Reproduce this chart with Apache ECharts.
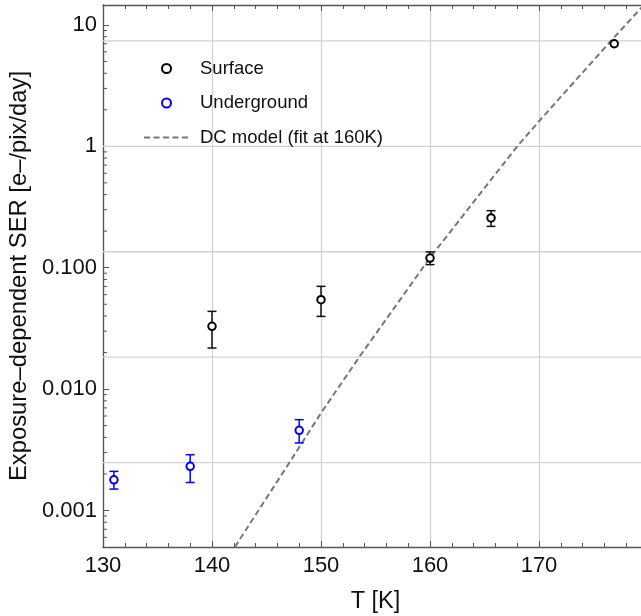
<!DOCTYPE html>
<html>
<head>
<meta charset="utf-8">
<script src="https://cdn.jsdelivr.net/npm/echarts@6/dist/echarts.min.js"></script>
<style>
  html, body { margin: 0; padding: 0; background: #ffffff; }
  #chart { width: 641px; height: 616px; }
</style>
</head>
<body>
<div id="chart"></div>
<script>
// Surface measurements: temperature [K], SER, and error bar limits
const surfaceT    = [140, 150, 160, 165.6, 176.9];
const surfaceSER  = [0.0329, 0.0545, 0.120, 0.257, 7.0];
const surfaceLow  = [0.0218, 0.0397, 0.106, 0.219, null];
const surfaceHigh = [0.0437, 0.0702, 0.135, 0.295, null];

// Underground measurements
const underT    = [131, 138, 148];
const underSER  = [0.00179, 0.00231, 0.00457];
const underLow  = [0.0015, 0.0017, 0.0036];
const underHigh = [0.0021, 0.00288, 0.0056];

// Dark-current model curve (fit at 160 K), sampled points
const dcT   = [142.1, 147.1, 150, 153.5, 160, 168, 170, 176.6, 179.4];
const dcSER = [0.0005, 0.00248, 0.00635, 0.0183, 0.121, 1.0, 1.61, 7.39, 13.9];

// Horizontal grid lines (at e^2, e^0, e^-2, e^-4, e^-6)
const yGridValues = [7.389, 1, 0.1353, 0.01832, 0.002479];
// Minor tick multipliers within each decade
const minorMultipliers = [2, 3, 4, 5, 6, 7, 8, 9];
const decades = [0.0001, 0.001, 0.01, 0.1, 1, 10];

const xMin = 130, xMax = 180, yMin = 0.0005, yMax = 14.6;

const minorYTicks = [];
decades.forEach(d => minorMultipliers.forEach(m => {
  const v = d * m;
  if (v > yMin && v < yMax) minorYTicks.push([xMin, v]);
}));

const FONT = "'Liberation Sans', Arial, sans-serif";
const AXIS_COLOR = '#555555';
const GRID_COLOR = '#d2d2d2';
const BLACK = '#000000';
const BLUE = '#0000ff';

function zip(a, b) { return a.map((v, i) => [v, b[i]]); }
function errData(t, lo, hi) {
  const out = [];
  t.forEach((v, i) => { if (lo[i] != null) out.push([v, lo[i], hi[i]]); });
  return out;
}

function errorBarRenderer(color) {
  return function (params, api) {
    const x = api.value(0);
    const pLo = api.coord([x, api.value(1)]);
    const pHi = api.coord([x, api.value(2)]);
    const w = 4.5;
    const style = { stroke: color, lineWidth: 1.5, fill: null };
    return {
      type: 'group',
      children: [
        { type: 'line', shape: { x1: pLo[0], y1: pLo[1], x2: pHi[0], y2: pHi[1] }, style },
        { type: 'line', shape: { x1: pLo[0] - w, y1: pLo[1], x2: pLo[0] + w, y2: pLo[1] }, style },
        { type: 'line', shape: { x1: pHi[0] - w, y1: pHi[1], x2: pHi[0] + w, y2: pHi[1] }, style }
      ]
    };
  };
}

const chart = echarts.init(document.getElementById('chart'), null, { renderer: 'canvas' });

const option = {
  backgroundColor: '#ffffff',
  animation: false,
  grid: { left: 103, width: 545, top: 5, bottom: 69, containLabel: false, outerBoundsMode: 'none' },
  legend: {
    data: [
      { name: 'Surface' },
      { name: 'Underground' },
      { name: 'DC model (fit at 160K)', itemStyle: { opacity: 0 } }
    ],
    orient: 'vertical',
    left: 138,
    top: 54,
    itemWidth: 45,
    itemHeight: 9,
    itemGap: 15.5,
    textStyle: { fontFamily: FONT, fontSize: 18.5, color: '#111111', padding: [0, 0, 0, 6] }
  },
  xAxis: [
    {
      type: 'value',
      min: xMin, max: xMax, interval: 10,
      name: 'T [K]',
      nameLocation: 'middle',
      nameGap: 43,
      nameTextStyle: { fontFamily: FONT, fontSize: 23.5, color: '#111111' },
      axisLine: { show: true, lineStyle: { color: AXIS_COLOR, width: 1.3 } },
      axisTick: { show: true, inside: true, length: 6, lineStyle: { color: AXIS_COLOR, width: 1 } },
      minorTick: { show: true, splitNumber: 5, length: 4, lineStyle: { color: AXIS_COLOR, width: 1 } },
      axisLabel: { fontFamily: FONT, fontSize: 22, color: '#111111', margin: 8, showMaxLabel: false },
      splitLine: { show: true, lineStyle: { color: GRID_COLOR, width: 1.3 } }
    },
    {
      type: 'value',
      position: 'top',
      min: xMin, max: xMax, interval: 10,
      axisLine: { show: true, lineStyle: { color: AXIS_COLOR, width: 1.3 } },
      axisTick: { show: true, inside: true, length: 6, lineStyle: { color: AXIS_COLOR, width: 1 } },
      minorTick: { show: true, splitNumber: 5, length: 4, lineStyle: { color: AXIS_COLOR, width: 1 } },
      axisLabel: { show: false },
      splitLine: { show: false }
    }
  ],
  yAxis: {
    type: 'log',
    logBase: 10,
    min: yMin, max: yMax,
    name: 'Exposure–dependent SER [e–/pix/day]',
    nameLocation: 'middle',
    nameGap: 72,
    nameTextStyle: { fontFamily: FONT, fontSize: 23.8, color: '#111111' },
    axisLine: { show: true, lineStyle: { color: AXIS_COLOR, width: 1.3 } },
    axisTick: { show: true, inside: true, length: 6, lineStyle: { color: AXIS_COLOR, width: 1 } },
    axisLabel: {
      fontFamily: FONT, fontSize: 22, color: '#111111', margin: 6,
      padding: [2, 0, 0, 0],
      showMinLabel: false, showMaxLabel: false,
      formatter: v => (v >= 1 ? String(Math.round(v)) : v.toFixed(3))
    },
    splitLine: { show: false }
  },
  series: [
    {
      // horizontal grid lines
      type: 'custom',
      silent: true,
      z: 1,
      data: yGridValues.map(v => [xMin, v]),
      renderItem: (params, api) => {
        const v = api.value(1);
        const p1 = api.coord([xMin, v]);
        const p2 = api.coord([xMax, v]);
        return { type: 'line', shape: { x1: p1[0], y1: p1[1], x2: p2[0], y2: p2[1] },
                 style: { stroke: GRID_COLOR, lineWidth: 1.3 } };
      }
    },
    {
      // minor ticks on the logarithmic axis
      type: 'custom',
      silent: true,
      z: 3,
      data: minorYTicks,
      renderItem: (params, api) => {
        const p = api.coord([xMin, api.value(1)]);
        return { type: 'line', shape: { x1: p[0], y1: p[1], x2: p[0] + 4, y2: p[1] },
                 style: { stroke: AXIS_COLOR, lineWidth: 1 } };
      }
    },
    {
      name: 'DC model (fit at 160K)',
      type: 'line',
      z: 2,
      data: zip(dcT, dcSER),
      showSymbol: false,
      symbol: 'none',
      clip: true,
      lineStyle: { color: '#777777', width: 2, type: [6, 3.5] },
      itemStyle: { color: '#777777' }
    },
    {
      type: 'custom',
      z: 3,
      silent: true,
      data: errData(surfaceT, surfaceLow, surfaceHigh),
      renderItem: errorBarRenderer('#111111')
    },
    {
      type: 'custom',
      z: 3,
      silent: true,
      data: errData(underT, underLow, underHigh),
      renderItem: errorBarRenderer(BLUE)
    },
    {
      name: 'Surface',
      type: 'scatter',
      z: 4,
      symbol: 'emptyCircle',
      symbolSize: 7.5,
      data: zip(surfaceT, surfaceSER),
      itemStyle: { color: BLACK, borderColor: BLACK, borderWidth: 2, opacity: 1 }
    },
    {
      name: 'Underground',
      type: 'scatter',
      z: 4,
      symbol: 'emptyCircle',
      symbolSize: 7.5,
      data: zip(underT, underSER),
      itemStyle: { color: BLUE, borderColor: BLUE, borderWidth: 2, opacity: 1 }
    }
  ]
};

chart.setOption(option);
</script>
</body>
</html>
